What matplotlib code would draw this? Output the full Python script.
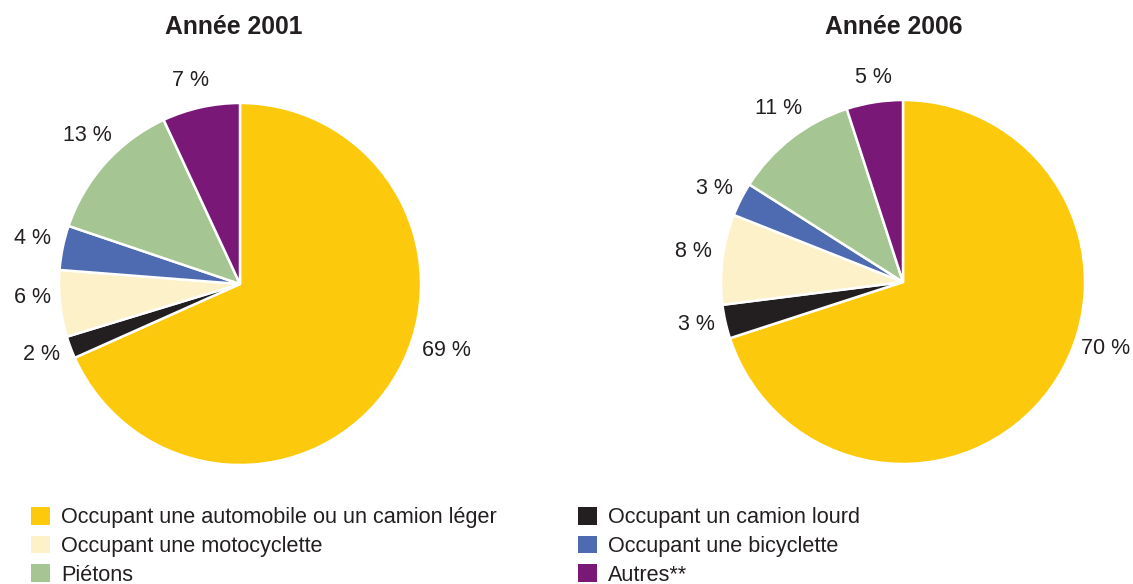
import matplotlib
matplotlib.use("Agg")
import matplotlib.pyplot as plt
from matplotlib.patches import Patch

plt.rcParams['font.family'] = ['Liberation Sans', 'DejaVu Sans']

categories = ["Occupant une automobile ou un camion léger",
              "Occupant un camion lourd",
              "Occupant une motocyclette",
              "Occupant une bicyclette",
              "Piétons",
              "Autres**"]
values_2001 = [69, 2, 6, 4, 13, 7]
values_2006 = [70, 3, 8, 3, 11, 5]
titles = ["Année 2001", "Année 2006"]

colors = ["#FDC90C", "#231F20", "#FDF1C9", "#4E6AB1", "#A5C693", "#791877"]
text_color = "#231F20"

W, H = 1133, 584
fig = plt.figure(figsize=(W / 100, H / 100), dpi=100)

# pie geometry in pixels (center x, center y from top, radius)
geoms = [(240, 284, 181), (903, 282, 182)]
title_x = [234, 894]
# label positions in units of the radius
label_pos = [
    [(1.138, -0.365), (-1.094, -0.387), (-1.149, -0.072), (-1.149, 0.254), (-0.845, 0.818), (-0.276, 1.122)],
    [(1.115, -0.368), (-1.137, -0.231), (-1.154, 0.165), (-1.038, 0.511), (-0.681, 0.956), (-0.165, 1.121)],
]

for (cx, cy, r), vals, title, lp, tx in zip(geoms, [values_2001, values_2006], titles, label_pos, title_x):
    ax = fig.add_axes([(cx - r) / W, (H - cy - r) / H, 2 * r / W, 2 * r / H])
    ax.pie(vals, colors=colors, startangle=90, counterclock=False, radius=1,
           wedgeprops=dict(edgecolor="white", linewidth=1.8))
    ax.set_xlim(-1, 1)
    ax.set_ylim(-1, 1)
    ax.set_aspect("auto")
    ax.axis("off")
    for v, (x, y) in zip(vals, lp):
        ax.text(x, y, f"{v} %", ha="center", va="center", fontsize=15.5, color=text_color,
                clip_on=False)
    fig.text(tx / W, 1 - 27.5 / H, title, ha="center", va="center", fontsize=17.8,
             fontweight="bold", color=text_color)

handles = [Patch(facecolor=c, edgecolor="none") for c in colors]
col1 = [0, 2, 4]
col2 = [1, 3, 5]
for idx, x0 in [(col1, 31 / W), (col2, 578 / W)]:
    leg = fig.legend([handles[i] for i in idx], [categories[i] for i in idx],
                     loc="upper left", bbox_to_anchor=(x0, 1 - 507 / H),
                     frameon=False, fontsize=15.6, handlelength=0.88, handleheight=0.88,
                     handletextpad=0.5, labelspacing=0.34, borderaxespad=0, borderpad=0)
    for t in leg.get_texts():
        t.set_color(text_color)

fig.savefig("out.png", dpi=100, facecolor="white")
